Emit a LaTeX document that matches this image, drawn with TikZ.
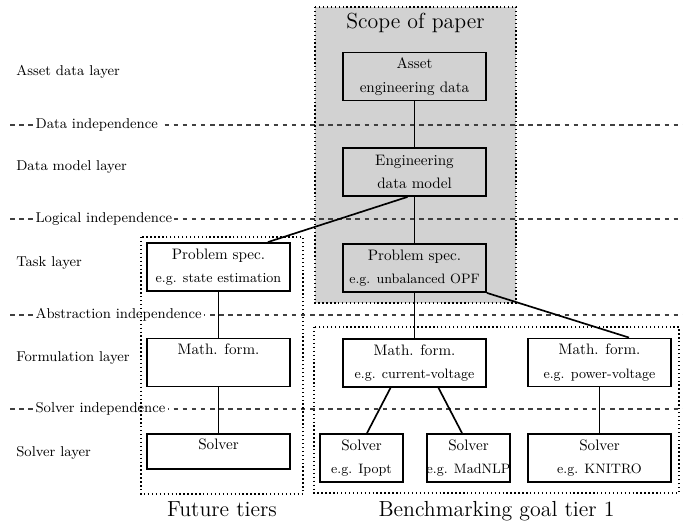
\documentclass[tikz,border=0pt]{standalone}
\usepackage{tikz}
\usetikzlibrary{calc}

\begin{document}
\begin{tikzpicture}[x=0.66pt, y=-0.66pt,
    block/.style={draw, line width=1.2pt, align=center, minimum width=94.4pt, minimum height=31.7pt},
    smallblock/.style={block, minimum width=54.8pt, inner xsep=0pt},
    layer/.style={anchor=base west, inner sep=0pt, font=\fontsize{9.4}{11}\selectfont},
    indep/.style={anchor=west, fill=white, inner xsep=1.5pt, inner ysep=1pt, font=\fontsize{9.4}{11}\selectfont},
    separator/.style={dashed, line width=0.7pt, black!75},
    region/.style={line width=0.9pt, dash pattern=on 0.9pt off 1.7pt},
    link/.style={line width=1.1pt},
    title/.style={anchor=base, font=\Large}
]
\useasboundingbox (0,0) rectangle (683,522);
\fill[gray!35] (315,7) rectangle (516,303);

\foreach \y/\name in {125/Data independence, 219/Logical independence, 315/Abstraction independence, 409/Solver independence} {
    \draw[separator] (10,\y) -- (683,\y);
    \node[indep] (indep-\y) at (33,\y) {\name};
}
\foreach \y/\name in {76/Asset data layer, 171/Data model layer, 267/Task layer, 362/Formulation layer, 457/Solver layer}
    \node[layer] (layer-\y) at (16,\y) {\name};

\draw[region] (315,7) rectangle (516,303);
\draw[region] (141,237) rectangle (303,494);
\draw[region] (314,327) rectangle (679,493);

\node[title] (scopetitle) at (415.5,28.5) {Scope of paper};
\node[title] (futuretitle) at (222,517) {Future tiers};
\node[title] (benchtitle) at (496.5,517) {Benchmarking goal tier 1};

\node[block] (asset) at (414.5,76.5) {Asset\\[3.5pt]engineering data};
\node[block] (engmodel) at (414.5,172) {Engineering\\[3.5pt]data model};
\node[block] (specopf) at (414.5,268) {Problem spec.\\[3.5pt]{\small e.g. unbalanced OPF}};
\node[block] (specse) at (218.5,267) {Problem spec.\\[3.5pt]{\small e.g. state estimation}};

\node[block] (mathse) at (218.5,362.5) {Math. form.\\[3.5pt]{\small\vphantom{g}}};
\node[block] (mathiv) at (414.5,363) {Math. form.\\[3.5pt]{\small e.g. current-voltage}};
\node[block] (mathpv) at (599.5,362.5) {Math. form.\\[3.5pt]{\small e.g. power-voltage}};

\node[block, minimum height=23.1pt] (solverse) at (218.5,451.5) {Solver\\[-4pt]{\small\vphantom{g}}};
\node[smallblock] (ipopt) at (361.5,458) {Solver\\[3.5pt]{\small e.g. Ipopt}};
\node[smallblock] (madnlp) at (468.5,458) {Solver\\[3.5pt]{\small e.g. MadNLP}};
\node[block] (knitro) at (599.5,458) {Solver\\[3.5pt]{\small e.g. KNITRO}};

\draw[link] (asset) -- (engmodel);
\draw[link] (engmodel) -- (specopf);
\draw[link] ($(engmodel.south)+(-7,0)$) -- ($(specse.north east)+(-23,0)$);
\draw[link] (specse) -- (mathse);
\draw[link] (mathse) -- (solverse);
\draw[link] (specopf) -- (mathiv);
\draw[link] (specopf.south east) -- ($(mathpv.north)+(29.5,0)$);
\draw[link] ($(mathiv.south)+(-24,0)$) -- ($(ipopt.north)+(5.5,0)$);
\draw[link] ($(mathiv.south)+(24,0)$) -- ($(madnlp.north)+(-6.5,0)$);
\draw[link] (mathpv) -- (knitro);
\end{tikzpicture}
\end{document}
